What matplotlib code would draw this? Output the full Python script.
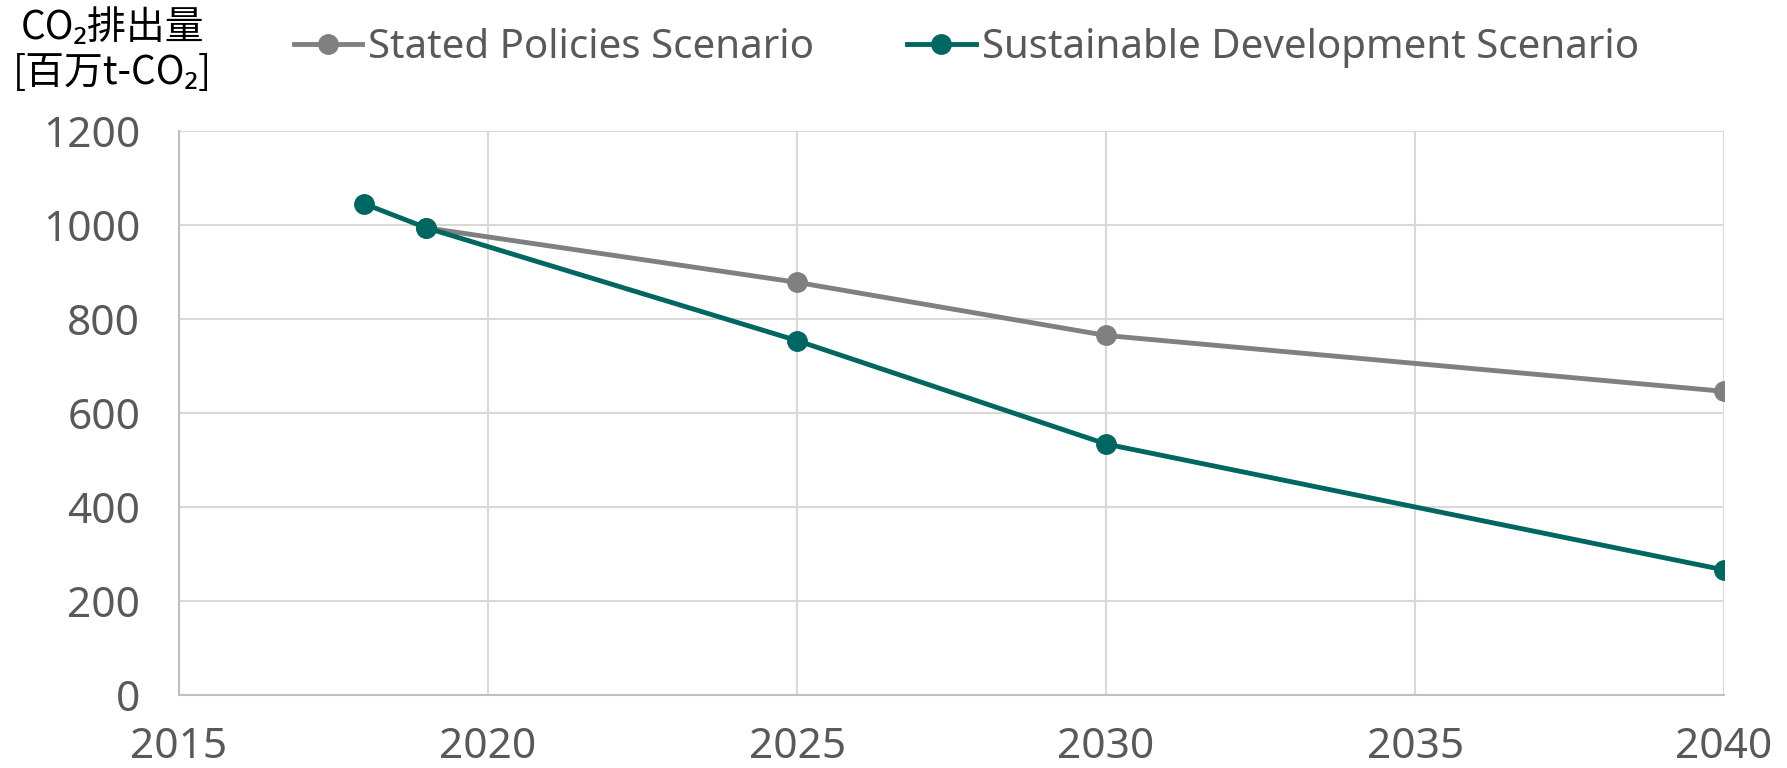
import matplotlib
matplotlib.use('Agg')
import matplotlib.pyplot as plt

# CO2 emission outlook, two scenarios
stated_years = [2019, 2025, 2030, 2040]
stated_values = [994, 878, 765, 646]
sds_years = [2018, 2019, 2025, 2030, 2040]
sds_values = [1045, 994, 754, 534, 266]

series_labels = ['Stated Policies Scenario', 'Sustainable Development Scenario']
x_ticks = [2015, 2020, 2025, 2030, 2035, 2040]
y_ticks = [0, 200, 400, 600, 800, 1000, 1200]

plt.rcParams['font.family'] = ['Noto Sans', 'Noto Sans CJK JP']

fig = plt.figure(figsize=(17.87, 7.68), dpi=100)
ax = fig.add_axes([0.1002, 0.0951, 0.8646, 0.7343])

ax.plot(stated_years, stated_values, color='#808080', lw=3.5,
        marker='o', markersize=14, label=series_labels[0], zorder=3)
ax.plot(sds_years, sds_values, color='#006662', lw=3.5,
        marker='o', markersize=14, label=series_labels[1], zorder=4)

ax.set_xlim(2015, 2040)
ax.set_ylim(0, 1200)
ax.set_xticks(x_ticks)
ax.set_yticks(y_ticks)
ax.grid(True, color='#d9d9d9', lw=1.5)
ax.set_axisbelow(True)
for side in ['top', 'right']:
    ax.spines[side].set_visible(False)
for side in ['left', 'bottom']:
    ax.spines[side].set_color('#bfbfbf')
    ax.spines[side].set_linewidth(1.5)
ax.tick_params(axis='both', length=0, labelsize=30.5, labelcolor='#595959')
ax.tick_params(axis='x', pad=22)
ax.tick_params(axis='y', pad=28)

cjk = ['Noto Sans CJK JP', 'Noto Sans']
fig.text(0.063, 0.963, 'CO\u2082排出量', ha='center', va='center',
         fontsize=28, family=cjk)
fig.text(0.063, 0.905, '[百万t-CO\u2082]', ha='center', va='center',
         fontsize=28, family=cjk)

leg = fig.legend(loc='center left', bbox_to_anchor=(0.1645, 0.9375), ncol=2,
                 frameon=False, fontsize=29, handlelength=1.7,
                 handletextpad=0.15, columnspacing=2.3,
                 borderaxespad=0, borderpad=0)
for t in leg.get_texts():
    t.set_color('#595959')

fig.savefig('out.png', dpi=100)
